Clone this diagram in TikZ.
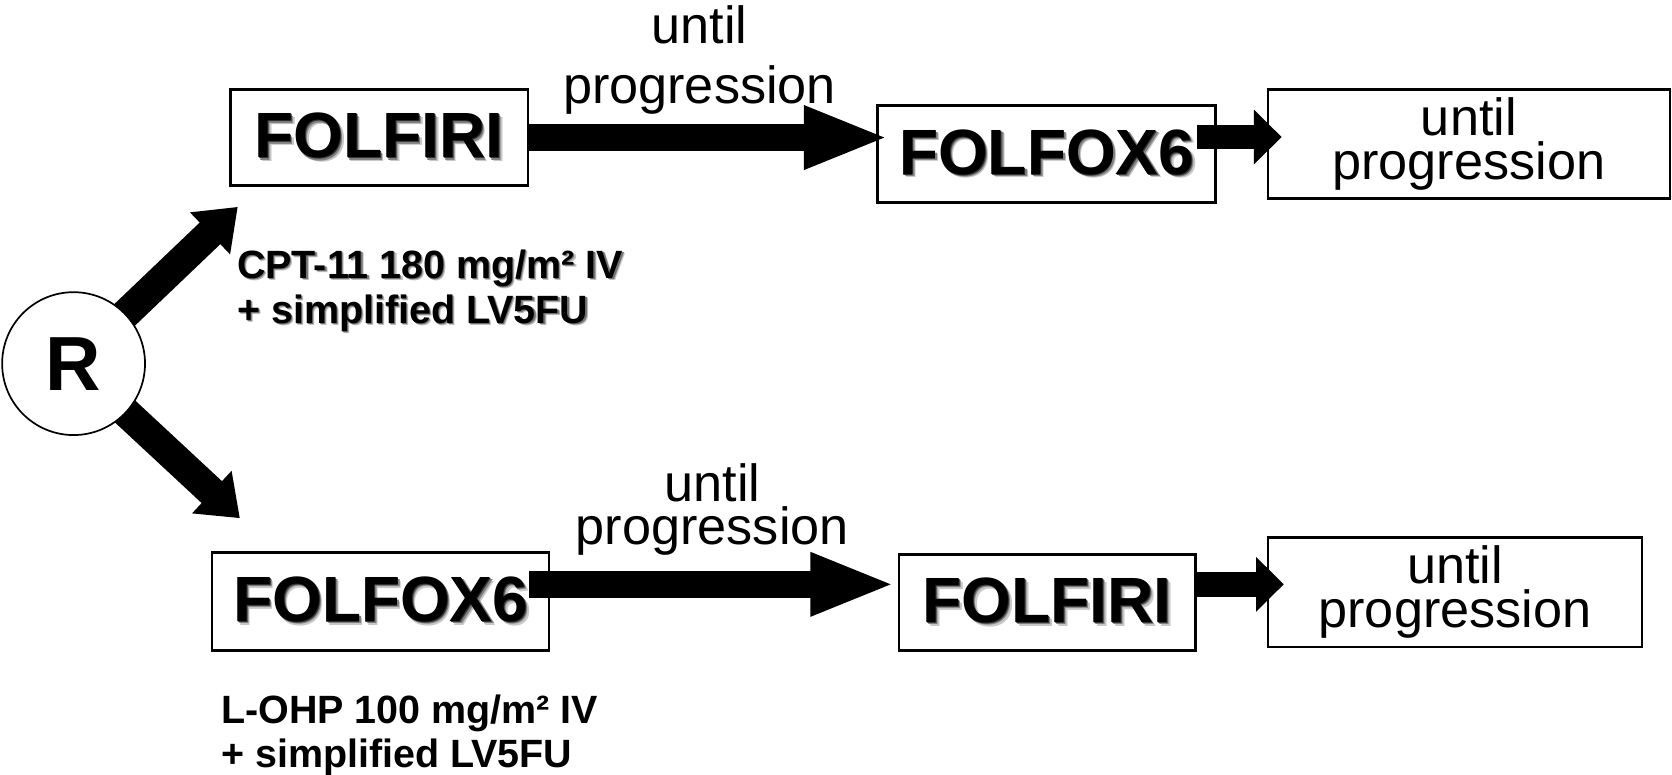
\documentclass[tikz,border=0pt]{standalone}
\usepackage{fontspec}
\setmainfont{Liberation Sans}
\usetikzlibrary{arrows.meta,calc,backgrounds}

% soft drop shadow behind bold drug names
\newcommand\blurtext[1]{\leavevmode
  \rlap{\kern1.6pt\raisebox{-1.6pt}{\color{black!22}#1}}%
  \rlap{\kern1.0pt\raisebox{-1.0pt}{\color{black!50}#1}}%
  \rlap{\kern0.4pt\raisebox{-0.4pt}{\color{black!80}#1}}#1}
\newcommand\blursmall[1]{\leavevmode
  \rlap{\kern1.1pt\raisebox{-1.1pt}{\color{black!25}#1}}%
  \rlap{\kern0.6pt\raisebox{-0.6pt}{\color{black!55}#1}}#1}

\begin{document}
\begin{tikzpicture}[x=0.5pt,y=-0.5pt,
  box/.style={draw, line width=1.1pt, inner sep=0pt, align=center},
  drug/.style={box, font=\fontsize{30}{32}\selectfont\bfseries},
  progbox/.style={box, font=\fontsize{24.5}{20.5}\selectfont},
  bigarrow/.style={line width=12.5pt, -{Triangle[length=40pt,width=27pt]}},
  smallarrow/.style={line width=11.5pt, -{Triangle[length=13pt,width=25pt]}},
  diagarrow/.style={line width=14pt, -{Triangle[length=18pt,width=26pt]}},
  dose/.style={anchor=north west, inner sep=0pt, align=left,
    font=\fontsize{18.5}{21}\selectfont\bfseries},
]
\useasboundingbox (0,0) rectangle (1568,726);

% randomisation
\node[circle, draw, fill=white, line width=0.8pt, minimum size=67pt, inner sep=0pt,
      font=\fontsize{36}{38}\selectfont\bfseries] (R) at (69,341) {R};
\coordinate (tipU) at (223,194);
\coordinate (tipD) at (225,486);
\begin{scope}[on background layer]
  \draw[diagarrow] (R.center) -- (tipU);
  \draw[diagarrow] (R.center) -- (tipD);
\end{scope}

% upper arm
\node[drug, minimum width=139.5pt, minimum height=45pt] (fi1) at (355.5,129) {\blurtext{FOLFIRI}};
\node[drug, minimum width=158.5pt, minimum height=45.5pt] (fo1) at (981.5,144.5) {\blurtext{FOLFOX6}};
\node[progbox, minimum width=188.5pt, minimum height=51pt] (u1) at (1377.5,135) {until\\progression};
\node[align=center, inner sep=0pt, font=\fontsize{24.5}{28}\selectfont] (lab1) at (656,56) {until\\progression};
\node[dose] (cpt) at (222,234) {\blursmall{CPT-11 180 mg/m² IV}\\\blursmall{+ simplified LV5FU}};

\draw[bigarrow] ([xshift=-0.5pt]fi1.east) -- ($(fi1.east -| fo1.west)+(12,0)$);
\draw[smallarrow] ($(fo1.east)+(-19,-16)$) -- ($(u1.west |- fo1.east)+(14,-16)$);

% lower arm
\node[drug, minimum width=158pt, minimum height=46pt] (fo2) at (357,564) {\blurtext{FOLFOX6}};
\node[drug, minimum width=139pt, minimum height=45pt] (fi2) at (982,565) {\blurtext{FOLFIRI}};
\node[progbox, minimum width=175.5pt, minimum height=51.5pt] (u2) at (1364.5,555.5) {until\\progression};
\node[align=center, inner sep=0pt, font=\fontsize{24.5}{20}\selectfont] (lab2) at (668,478) {until\\progression};
\node[dose] (ohp) at (207,651) {L-OHP 100 mg/m² IV\\+ simplified LV5FU};

\draw[bigarrow] ($(fo2.east)+(-20,-16)$) -- ($(fi2.west |- fo2.east)+(-2,-16)$);
\draw[smallarrow] ($(fi2.east)+(0,-17)$) -- ($(u2.west |- fi2.east)+(16,-17)$);
\end{tikzpicture}
\end{document}
